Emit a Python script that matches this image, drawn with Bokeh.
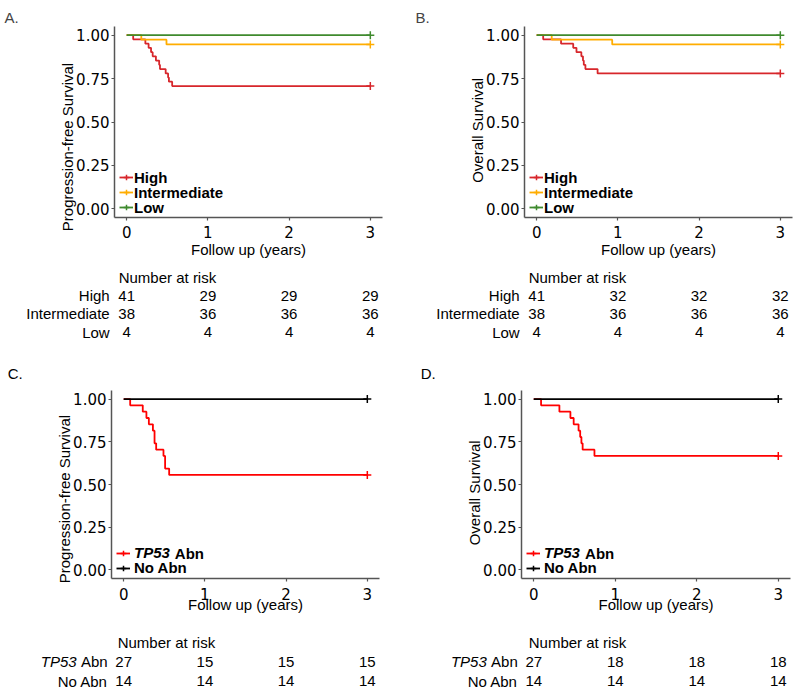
from bokeh.plotting import figure
from bokeh.layouts import column, row
from bokeh.models import (Range1d, FixedTicker, PrintfTickFormatter, Legend, LegendItem,
                          Label, ColumnDataSource)
from bokeh.embed import file_html
from bokeh.resources import INLINE
from bokeh.core.properties import value

FONT = "Liberation Sans"
TICKFONT = "DejaVu Sans"
NB = "\u00a0"

# ---------------- data ----------------
risk_times = [0, 1, 2, 3]

# A. Progression-free survival by risk group
a_high_t = [0, 0.08, 0.23, 0.27, 0.30, 0.32, 0.36, 0.40, 0.41, 0.48, 0.51, 0.52, 0.56, 3]
a_high_s = [1.0, 0.976, 0.951, 0.927, 0.902, 0.878, 0.854, 0.829, 0.805, 0.780, 0.756, 0.732, 0.707, 0.707]
a_int_t = [0, 0.18, 0.49, 3]
a_int_s = [1.0, 0.974, 0.947, 0.947]
a_low_t = [0, 3]
a_low_s = [1.0, 1.0]
group_labels = ["High", "Intermediate", "Low"]
a_risk_high = [41, 29, 29, 29]
a_risk_int = [38, 36, 36, 36]
a_risk_low = [4, 4, 4, 4]

# B. Overall survival by risk group
b_high_t = [0, 0.08, 0.30, 0.45, 0.49, 0.55, 0.57, 0.58, 0.60, 0.75, 3]
b_high_s = [1.0, 0.976, 0.951, 0.927, 0.902, 0.878, 0.854, 0.829, 0.805, 0.780, 0.780]
b_int_t = [0, 0.185, 0.93, 3]
b_int_s = [1.0, 0.974, 0.947, 0.947]
b_low_t = [0, 3]
b_low_s = [1.0, 1.0]
b_risk_high = [41, 32, 32, 32]
b_risk_int = [38, 36, 36, 36]
b_risk_low = [4, 4, 4, 4]

# C. Progression-free survival by TP53 status
c_tp53_t = [0, 0.08, 0.235, 0.28, 0.31, 0.36, 0.38, 0.40, 0.49, 0.51, 0.56, 3]
c_tp53_s = [1.0, 0.963, 0.926, 0.889, 0.852, 0.815, 0.741, 0.704, 0.667, 0.593, 0.556, 0.556]
c_noabn_t = [0, 3]
c_noabn_s = [1.0, 1.0]
c_risk_tp53 = [27, 15, 15, 15]
c_risk_noabn = [14, 14, 14, 14]

# D. Overall survival by TP53 status
d_tp53_t = [0, 0.09, 0.315, 0.45, 0.49, 0.55, 0.57, 0.585, 0.60, 0.745, 3]
d_tp53_s = [1.0, 0.963, 0.926, 0.889, 0.852, 0.815, 0.778, 0.741, 0.704, 0.667, 0.667]
d_noabn_t = [0, 3]
d_noabn_s = [1.0, 1.0]
d_risk_tp53 = [27, 18, 18, 18]
d_risk_noabn = [14, 14, 14, 14]

C_HIGH = "#D7262B"
C_INT = "#FFAD00"
C_LOW = "#3F8A2E"
C_TP53 = "#FF0000"
C_NOABN = "#000000"
AXIS_COL = "#555555"

XR = (-0.15, 3.15)
YR = (-0.05, 1.05)
W = 400


def km_figure(letter, ylabel, height, left, right, top, bottom,
              title_offset, xtick_standoff, xlabel_standoff):
    p = figure(width=W, height=height, x_range=Range1d(*XR), y_range=Range1d(*YR),
               output_backend="svg", toolbar_location=None,
               title=letter if letter else None,
               min_border_left=left, min_border_right=right,
               min_border_top=top, min_border_bottom=bottom)
    if letter:
        p.title.text_font = FONT
        p.title.text_font_size = "15px"
        p.title.text_font_style = "normal"
        p.title.align = "left"
        p.title.offset = title_offset
        p.title.standoff = 1
    p.outline_line_color = None
    p.grid.visible = False
    for ax in (p.xaxis[0], p.yaxis[0]):
        ax.axis_line_color = AXIS_COL
        ax.axis_line_width = 1.5
        ax.major_tick_line_color = AXIS_COL
        ax.major_tick_line_width = 1.2
        ax.major_tick_out = 3
        ax.major_tick_in = 0
        ax.minor_tick_line_color = None
        ax.major_label_text_font = TICKFONT
        ax.major_label_text_font_size = "15px"
        ax.major_label_text_color = "black"
        ax.axis_label_text_font = FONT
        ax.axis_label_text_font_size = "15px"
        ax.axis_label_text_font_style = "normal"
        ax.axis_label_text_color = "black"
    p.xaxis.ticker = FixedTicker(ticks=risk_times)
    p.xaxis.major_label_standoff = xtick_standoff
    p.xaxis.axis_label = "Follow up (years)"
    p.xaxis.axis_label_standoff = xlabel_standoff
    p.yaxis.ticker = FixedTicker(ticks=[0, 0.25, 0.5, 0.75, 1.0])
    p.yaxis.formatter = PrintfTickFormatter(format="%.2f")
    p.yaxis.major_label_standoff = 2
    p.yaxis.axis_label = ylabel
    p.yaxis.axis_label_standoff = -3
    return p


def add_curve(p, t, s, color):
    r1 = p.step(t, s, mode="after", line_color=color, line_width=1.8)
    r2 = p.scatter([t[-1]], [s[-1]], marker="cross", size=8, line_color=color, line_width=1.5)
    return [r1, r2]


def add_legend_item(p, label, renderers, loc_y, style, standoff):
    lg = Legend(items=[LegendItem(label=label, renderers=renderers)], location=(5, loc_y),
                orientation="vertical", background_fill_alpha=0, border_line_alpha=0,
                padding=0, margin=0, spacing=0, glyph_width=14, glyph_height=14,
                label_height=14, label_standoff=standoff, label_text_font=FONT,
                label_text_font_size="15px", label_text_font_style=style,
                label_text_color="black")
    p.add_layout(lg)


def table_figure(height, km_left, km_right, yr, rows, label_offset, title_offset,
                 italic_offset=None):
    ppu = (W - km_left - km_right) / (XR[1] - XR[0])
    xs = XR[0] - km_left / ppu
    xe = xs + W / ppu
    p = figure(width=W, height=height, x_range=Range1d(xs, xe), y_range=Range1d(*yr),
               output_backend="svg", toolbar_location=None, x_axis_type=None, y_axis_type=None,
               min_border_left=0, min_border_right=0, min_border_top=0, min_border_bottom=0)
    p.outline_line_color = None
    p.grid.visible = False
    p.add_layout(Label(x=0, y=0, x_offset=title_offset, text="Number at risk", text_align="left",
                       text_baseline="middle", text_font=FONT, text_font_size="15px",
                       text_color="black"))
    for i, (lab, counts) in enumerate(rows):
        yy = -(i + 1)
        p.add_layout(Label(x=0, y=yy, x_offset=label_offset, text=lab, text_align="right",
                           text_baseline="middle", text_font=FONT, text_font_size="15px",
                           text_color="black"))
        src = ColumnDataSource(dict(x=risk_times, y=[yy] * len(counts),
                                    t=[str(c) for c in counts]))
        p.text(x="x", y="y", text="t", source=src, text_align="center", text_baseline="middle",
               text_font=value(FONT), text_font_size="15px", text_color="black")
    if italic_offset is not None:
        p.add_layout(Label(x=0, y=-1, x_offset=italic_offset, text="TP53", text_align="right",
                           text_baseline="middle", text_font=FONT, text_font_size="15px",
                           text_font_style="italic", text_color="black"))
    return p


def panel_letter(p, txt, y, x_offset):
    p.add_layout(Label(x=0, y=y, x_offset=x_offset, text=txt, text_align="left",
                       text_baseline="middle", text_font=FONT, text_font_size="15px",
                       text_color="black"))


TOP_H = 262
TOPTAB_H = 123
BOT_H = 230
BOTTAB_H = 78

# ---------------- panel A ----------------
pa = km_figure("A.", "Progression-free Survival" + NB * 12, TOP_H, 114, 18, 26, 45, -110, 5, 0)
ra = [add_curve(pa, a_high_t, a_high_s, C_HIGH),
      add_curve(pa, a_int_t, a_int_s, C_INT),
      add_curve(pa, a_low_t, a_low_s, C_LOW)]
for lab, r, ly in zip(group_labels, ra, [31.5, 16.5, 1.5]):
    add_legend_item(pa, lab, r, ly, "bold", 1)

# ---------------- panel B ----------------
pb = km_figure("B.", "Overall Survival" + NB * 4, TOP_H, 124, 8, 26, 45, -109, 5, 0)
rb = [add_curve(pb, b_high_t, b_high_s, C_HIGH),
      add_curve(pb, b_int_t, b_int_s, C_INT),
      add_curve(pb, b_low_t, b_low_s, C_LOW)]
for lab, r, ly in zip(group_labels, rb, [31.5, 16.5, 1.5]):
    add_legend_item(pb, lab, r, ly, "bold", 1)

# ---------------- tables A/B (also carry the C./D. panel letters) ----------------
top_yr = (-5.934, 0.824)
ta = table_figure(TOPTAB_H, 114, 18, top_yr,
                  [("High", a_risk_high), ("Intermediate", a_risk_int), ("Low", a_risk_low)],
                  -17, -8)
panel_letter(ta, "C.", -5.302, -119)
tb = table_figure(TOPTAB_H, 124, 8, top_yr,
                  [("High", b_risk_high), ("Intermediate", b_risk_int), ("Low", b_risk_low)],
                  -17, -8)
panel_letter(tb, "D.", -5.302, -116)

# ---------------- panel C ----------------
pc = km_figure(None, "Progression-free Survival" + NB * 7, BOT_H, 111, 21, 5, 34, 0, 6, -7)
rc1 = add_curve(pc, c_tp53_t, c_tp53_s, C_TP53)
rc2 = add_curve(pc, c_noabn_t, c_noabn_s, C_NOABN)
add_legend_item(pc, "TP53", rc1, 16.6, "bold italic", 4)
add_legend_item(pc, "No Abn", rc2, 2, "bold", 4)
pc.add_layout(Label(x=0.63, y=0.096, text="Abn", text_align="left", text_baseline="middle",
                    text_font=FONT, text_font_size="15px", text_font_style="bold",
                    text_color="black"))

# ---------------- panel D ----------------
pd_ = km_figure(None, "Overall Survival" + NB * 4, BOT_H, 121, 10, 5, 34, 0, 6, -7)
rd1 = add_curve(pd_, d_tp53_t, d_tp53_s, C_TP53)
rd2 = add_curve(pd_, d_noabn_t, d_noabn_s, C_NOABN)
add_legend_item(pd_, "TP53", rd1, 16.6, "bold italic", 4)
add_legend_item(pd_, "No Abn", rd2, 2, "bold", 4)
pd_.add_layout(Label(x=0.63, y=0.096, text="Abn", text_align="left", text_baseline="middle",
                     text_font=FONT, text_font_size="15px", text_font_style="bold",
                     text_color="black"))

# ---------------- tables C/D ----------------
bot_yr = (-2.649, 1.403)
tc = table_figure(BOTTAB_H, 111, 21, bot_yr,
                  [("Abn", c_risk_tp53), ("No Abn", c_risk_noabn)], -16, -6, -47)
td = table_figure(BOTTAB_H, 121, 10, bot_yr,
                  [("Abn", d_risk_tp53), ("No Abn", d_risk_noabn)], -16, -5, -47)

layout = column(row(pa, pb), row(ta, tb), row(pc, pd_), row(tc, td))

open("out.html", "w").write(file_html(layout, INLINE))
